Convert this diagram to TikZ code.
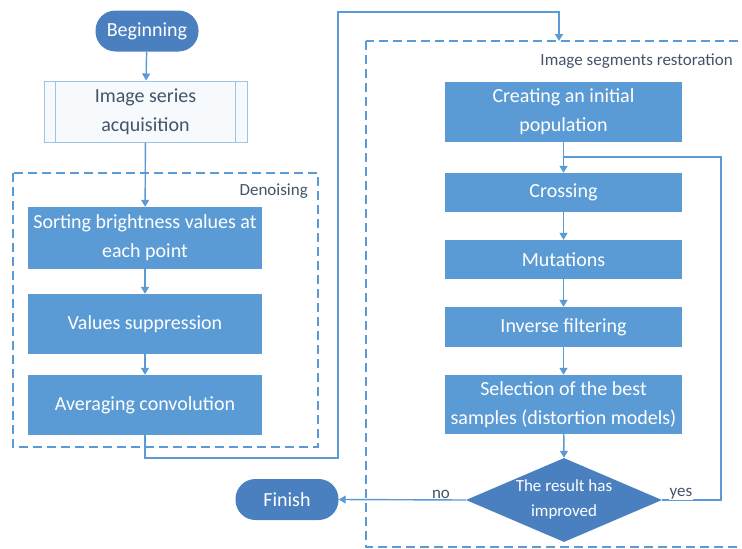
\documentclass[tikz,border=0pt]{standalone}
\usepackage{fontspec}
\setmainfont{Carlito}
\usetikzlibrary{shapes.geometric,arrows.meta}
\definecolor{boxblue}{HTML}{5B9BD5}
\definecolor{termblue}{HTML}{4A80BF}
\definecolor{linblue}{HTML}{5B9BD5}
\definecolor{lightbd}{HTML}{9DC3E6}
\definecolor{lightfill}{HTML}{F6FAFD}
\definecolor{labgray}{HTML}{44546A}
\begin{document}
\begin{tikzpicture}[x=1pt,y=-1pt,
  every node/.style={font=\fontsize{20}{29}\selectfont},
  procbox/.style={fill=boxblue,text=white,align=center,inner sep=0pt,minimum width=237pt},
  termbox/.style={fill=termblue,text=white,rounded corners=20pt,inner sep=0pt,minimum height=41pt,minimum width=103pt},
  grouplbl/.style={text=labgray,font=\fontsize{17}{24}\selectfont,inner sep=0pt},
  flow/.style={draw=linblue,line width=1.4pt,-{Triangle[width=8pt,length=7pt]}},
  plainflow/.style={draw=linblue,line width=1.4pt},
  groupbox/.style={draw=linblue,line width=1.2pt,dash pattern=on 9pt off 5pt},
  yesno/.style={text=labgray,font=\fontsize{17}{24}\selectfont,fill=white,inner sep=1pt}]
\clip (0,0) rectangle (742,549);
\fill[white] (0,0) rectangle (742,549);

% group boxes
\draw[groupbox] (13,173) rectangle (318,447);
\draw[groupbox] (366,41) rectangle (760,547);
\node[grouplbl,anchor=east] (lden) at (308,191) {Denoising};
\node[grouplbl,anchor=east] (lisr) at (733,61) {Image segments restoration};

% left column
\node[termbox] (beg) at (147,31) {Beginning};
\node[draw=lightbd,fill=lightfill,line width=1pt,text=labgray,align=center,inner sep=0pt,minimum width=203pt,minimum height=61pt] (acq) at (145.5,111.5) {Image series\\acquisition};
\draw[lightbd,line width=1pt] ([xshift=12pt]acq.north west) -- ([xshift=12pt]acq.south west)
  ([xshift=-12pt]acq.north east) -- ([xshift=-12pt]acq.south east);
\node[procbox,minimum width=234pt,minimum height=62pt] (sort) at (145,238) {Sorting brightness values at\\each point};
\node[procbox,minimum width=234pt,minimum height=60pt] (supp) at (145,324) {Values suppression};
\node[procbox,minimum width=234pt,minimum height=60pt] (avg) at (145,405) {Averaging convolution};
\node[termbox] (fin) at (287,499.5) {Finish};

% right column
\node[procbox,minimum height=60pt] (cip) at (563.5,112) {Creating an initial\\population};
\node[procbox,minimum height=39pt] (cross) at (563.5,192.5) {Crossing};
\node[procbox,minimum height=39pt] (mut) at (563.5,259.5) {Mutations};
\node[procbox,minimum height=40pt] (inv) at (563.5,327) {Inverse filtering};
\node[procbox,minimum height=59pt] (sel) at (563.5,404.5) {Selection of the best\\samples (distortion models)};
\node[diamond,fill=termblue,inner sep=0pt,minimum width=196pt,minimum height=84pt] (dec) at (564,500) {};
\node[text=white,align=center,font=\fontsize{17}{25}\selectfont] (dectxt) at (564,499) {The result has\\improved};

% coordinates
\coordinate (isrtop) at (559,41);
\coordinate (loopin) at (563.5,157);

% connectors
\draw[flow] (beg) -- (acq);
\draw[flow] (acq) -- (sort);
\draw[flow] (sort) -- (supp);
\draw[flow] (supp) -- (avg);
\draw[flow] (avg.south) -- (145,458) -- (338,458) -- (338,12) -- (559,12) -- (isrtop);
\draw[flow] (cip) -- (cross);
\draw[flow] (cross) -- (mut);
\draw[flow] (mut) -- (inv);
\draw[flow] (inv) -- (sel);
\draw[flow] (sel) -- (dec.north);
\draw[plainflow] (dec.east) -- (721,500) -- (721,157) -- (loopin);
\draw[flow] (dec.west) -- (fin.east);
\node[yesno] (yes) at (681,494) {yes};
\node[yesno] (no) at (441,494) {no};
\end{tikzpicture}
\end{document}
